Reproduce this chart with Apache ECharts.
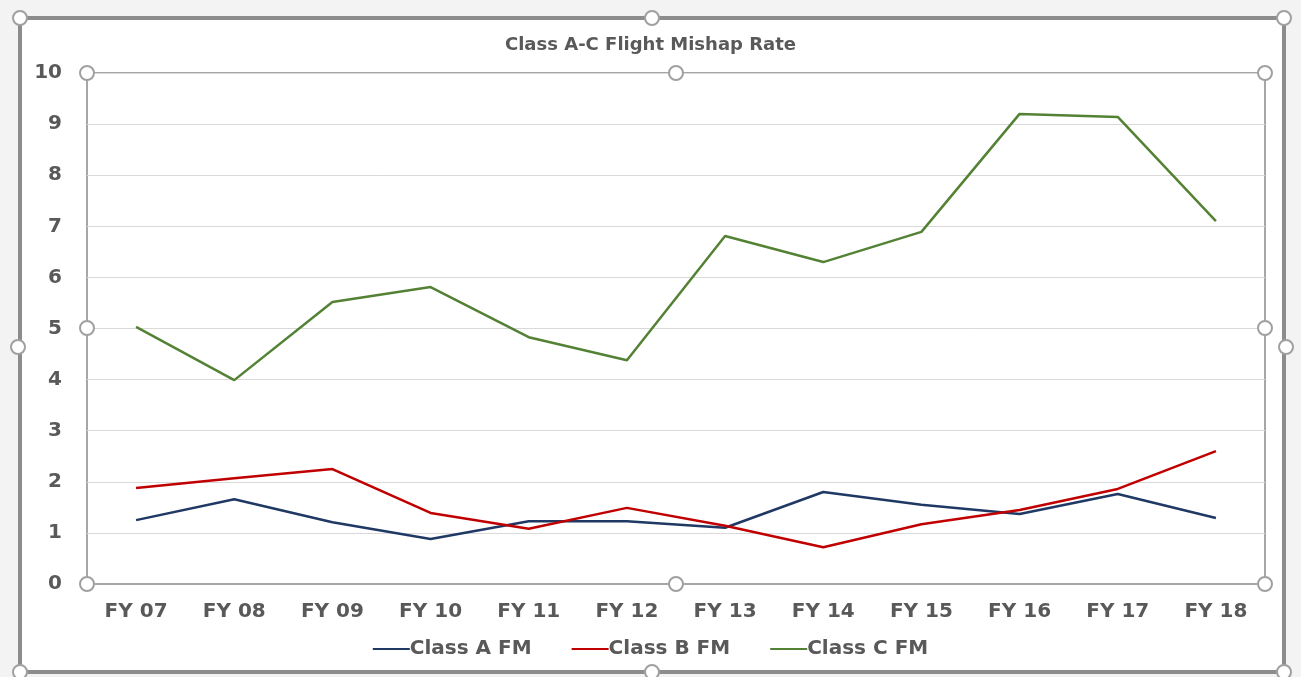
<!DOCTYPE html>
<html>
<head>
<meta charset="utf-8">
<script src="https://cdn.jsdelivr.net/npm/echarts@6/dist/echarts.min.js"></script>
<style>
  html, body { margin: 0; padding: 0; background: #f3f3f3; }
  #chart { width: 1301px; height: 677px; }
</style>
</head>
<body>
<div id="chart"></div>
<script>
const years = ["FY 07", "FY 08", "FY 09", "FY 10", "FY 11", "FY 12", "FY 13", "FY 14", "FY 15", "FY 16", "FY 17", "FY 18"];
const classA = [1.25, 1.66, 1.21, 0.88, 1.23, 1.23, 1.10, 1.80, 1.55, 1.37, 1.76, 1.29];
const classB = [1.88, 2.07, 2.25, 1.39, 1.08, 1.49, 1.14, 0.72, 1.17, 1.45, 1.86, 2.60];
const classC = [5.03, 3.99, 5.52, 5.81, 4.83, 4.38, 6.81, 6.30, 6.89, 9.20, 9.14, 7.10];
const yTicks = [0, 10, 1]; // min, max, step

const font = "'DejaVu Sans', 'Open Sans', sans-serif";
const labelColor = "#595959";

// selection handles (Excel style), decoration only
function handle(x, y) {
  return {
    type: "circle",
    shape: { cx: x, cy: y, r: 7 },
    style: { fill: "#fff", stroke: "#a0a0a0", lineWidth: 2 },
    z: 100
  };
}

let chart = echarts.init(document.getElementById("chart"));
chart.setOption({
  backgroundColor: "#f3f3f3",
  animation: false,
  title: {
    text: "Class A-C Flight Mishap Rate",
    left: "center",
    top: 31,
    textStyle: { fontFamily: font, fontSize: 18, fontWeight: "bold", color: labelColor }
  },
  legend: {
    bottom: 13,
    left: "center",
    itemWidth: 37,
    itemHeight: 2,
    itemGap: 40,
    icon: "rect",
    textStyle: { fontFamily: font, fontSize: 20, fontWeight: "bold", color: labelColor, padding: [0, 0, 0, -5] },
    data: ["Class A FM", "Class B FM", "Class C FM"]
  },
  grid: {
    left: 87,
    right: 36,
    top: 73,
    bottom: 93,
    show: true,
    backgroundColor: "#fff",
    borderColor: "#a6a6a6",
    borderWidth: 2
  },
  xAxis: {
    type: "category",
    data: years,
    boundaryGap: true,
    axisTick: { show: false },
    axisLine: { lineStyle: { color: "#a6a6a6", width: 2 } },
    axisLabel: { margin: 18, fontFamily: font, fontSize: 20, fontWeight: "bold", color: labelColor }
  },
  yAxis: {
    type: "value",
    min: yTicks[0],
    max: yTicks[1],
    interval: yTicks[2],
    axisLine: { show: false },
    axisTick: { show: false },
    splitLine: { lineStyle: { color: "#d9d9d9", width: 1 } },
    axisLabel: { margin: 25, fontFamily: font, fontSize: 20, fontWeight: "bold", color: labelColor }
  },
  series: [
    { name: "Class A FM", type: "line", data: classA, showSymbol: false, color: "#1f3864", lineStyle: { width: 2.5 } },
    { name: "Class B FM", type: "line", data: classB, showSymbol: false, color: "#c00000", lineStyle: { width: 2.5 } },
    { name: "Class C FM", type: "line", data: classC, showSymbol: false, color: "#548235", lineStyle: { width: 2.5 } }
  ],
  graphic: [
    {
      type: "rect",
      shape: { x: 20, y: 18, width: 1264, height: 654 },
      style: { fill: "#fff", stroke: "#8c8c8c", lineWidth: 4 },
      z: -10,
      silent: true
    },
    handle(20, 18), handle(652, 18), handle(1284, 18),
    handle(18, 347), handle(1286, 347),
    handle(20, 672), handle(652, 672), handle(1284, 672),
    handle(87, 73), handle(676, 73), handle(1265, 73),
    handle(87, 328), handle(1265, 328),
    handle(87, 584), handle(676, 584), handle(1265, 584)
  ]
});
</script>
</body>
</html>
